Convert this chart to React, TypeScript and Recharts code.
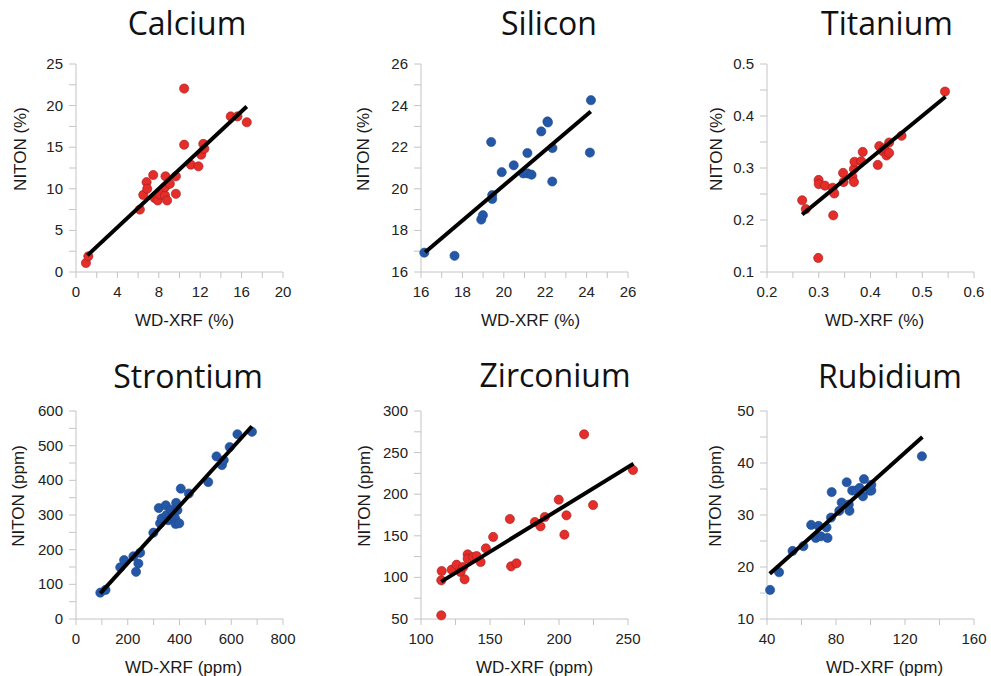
import React from 'react';
import { ScatterChart, Scatter, XAxis, YAxis, Label } from 'recharts';

// Calcium (%)
const caX = [0.96, 1.19, 6.17, 6.5, 6.82, 6.88, 7.46, 7.6, 7.85, 7.9, 8.1, 8.6, 8.65, 8.6, 8.8, 9.07, 9.65, 9.65, 10.45, 10.45, 11.1, 11.83, 12.1, 12.3, 12.4, 14.95, 15.6, 16.5];
const caY = [1.08, 1.88, 7.5, 9.27, 10.8, 10.0, 11.66, 8.9, 9.2, 8.6, 9.3, 9.2, 11.5, 10.2, 8.6, 10.6, 11.5, 9.4, 22.05, 15.3, 12.9, 12.7, 14.1, 15.4, 14.8, 18.7, 18.7, 18.0];
const caFitX = [1.1, 16.5];
const caFitY = [2.0, 19.9];
const caXTicks = [0, 4, 8, 12, 16, 20];
const caYTicks = [0, 5, 10, 15, 20, 25];

// Silicon (%)
const siX = [16.16, 17.62, 18.91, 18.99, 19.39, 19.44, 19.44, 19.9, 20.48, 20.94, 21.15, 21.34, 21.14, 21.81, 22.11, 22.13, 22.35, 22.34, 24.21, 24.16];
const siY = [16.93, 16.78, 18.52, 18.73, 22.25, 19.51, 19.7, 20.8, 21.13, 20.74, 20.74, 20.68, 21.72, 22.76, 23.24, 23.19, 21.96, 20.35, 24.26, 21.74];
const siFitX = [16.2, 24.2];
const siFitY = [16.95, 23.72];
const siXTicks = [16, 18, 20, 22, 24, 26];
const siYTicks = [16, 18, 20, 22, 24, 26];

// Titanium (%)
const tiX = [0.268, 0.275, 0.299, 0.2997, 0.3, 0.312, 0.327, 0.328, 0.33, 0.347, 0.348, 0.365, 0.368, 0.368, 0.369, 0.382, 0.385, 0.414, 0.417, 0.424, 0.427, 0.431, 0.436, 0.436, 0.46, 0.544];
const tiY = [0.238, 0.221, 0.127, 0.277, 0.269, 0.266, 0.262, 0.209, 0.251, 0.2906, 0.273, 0.283, 0.298, 0.273, 0.312, 0.313, 0.331, 0.306, 0.342, 0.332, 0.338, 0.324, 0.329, 0.349, 0.362, 0.447];
const tiFitX = [0.268, 0.545];
const tiFitY = [0.2105, 0.437];
const tiXTicks = [0.2, 0.3, 0.4, 0.5, 0.6];
const tiYTicks = [0.1, 0.2, 0.3, 0.4, 0.5];

// Strontium (ppm)
const srX = [94, 114, 171, 186, 222, 241, 232, 248, 299, 320, 325, 331, 347, 350, 357, 367, 376, 383, 385, 387, 392, 399, 405, 436, 511, 543, 564, 571, 594, 624, 680];
const srY = [76, 84, 149, 170, 181, 160, 136, 191, 249, 320, 276, 290, 328, 300, 285, 315, 304, 290, 274, 335, 314, 276, 376, 362, 395, 469, 444, 458, 496, 533, 540];
const srFitX = [94, 680];
const srFitY = [74, 556];
const srXTicks = [0, 200, 400, 600, 800];
const srYTicks = [0, 100, 200, 300, 400, 500, 600];

// Zirconium (ppm)
const zrX = [114.7, 114.7, 115, 122.2, 125.8, 128.7, 130.6, 131.6, 133.8, 133.8, 137.9, 140.3, 143.2, 147, 152.3, 164.4, 165.3, 169.2, 182.5, 186.6, 189.7, 199.8, 203.9, 205.4, 218.2, 224.7, 253.6];
const zrY = [54.4, 96.5, 107.7, 109.3, 115.3, 106.5, 112.5, 97.7, 127.7, 122.5, 124.5, 125.7, 118.5, 134.9, 148.6, 170.2, 113.3, 116.9, 166.6, 161.4, 172.6, 193.4, 151.4, 174.6, 272, 187, 229.1];
const zrFitX = [114.7, 254];
const zrFitY = [94.9, 236.7];
const zrXTicks = [100, 150, 200, 250];
const zrYTicks = [50, 100, 150, 200, 250, 300];

// Rubidium (ppm)
const rbX = [41.8, 47.0, 54.8, 61.1, 65.6, 68.3, 69.9, 71.2, 74.5, 75.1, 77.1, 77.5, 81.9, 83.3, 86.2, 87.4, 87.8, 89.4, 91.7, 93.7, 95.6, 96.2, 99.5, 100.5, 100.5, 129.8];
const rbY = [15.6, 19.0, 23.1, 24.0, 28.1, 25.6, 27.9, 25.9, 27.6, 25.6, 29.5, 34.4, 30.8, 32.4, 36.3, 32.0, 30.8, 34.7, 34.7, 35.2, 33.6, 36.9, 34.7, 34.7, 35.8, 41.3];
const rbFitX = [41.6, 130.1];
const rbFitY = [18.7, 45.0];
const rbXTicks = [40, 80, 120, 160];
const rbYTicks = [10, 20, 30, 40, 50];

const RED = '#e52d2a';
const RED_EDGE = '#a01d19';
const BLUE = '#2457a6';
const BLUE_EDGE = '#1e4c91';
const AXIS = '#c4c4c4';
const TICK_FONT = '"Liberation Sans", Arial, sans-serif';

const PLOT_W = 207;
const PLOT_H = 208;
const Y_AXIS_W = 76;
const X_AXIS_H = 58;
const TOP_M = 10;
const RIGHT_M = 20;

const zip = (xs: number[], ys: number[]) => xs.map((x, i) => ({ x, y: ys[i] }));

// majors plus a minor tick halfway between each pair
const withMinors = (major: number[]) => {
    const out: number[] = [];
    major.forEach((v, i) => {
        out.push(v);
        if (i < major.length - 1) out.push((v + major[i + 1]) / 2);
    });
    return out;
};

type PanelProps = {
    title: string;
    xLabel: string;
    yLabel: string;
    xs: number[];
    ys: number[];
    fitX: number[];
    fitY: number[];
    xTicks: number[];
    yTicks: number[];
    color: string;
    edge: string;
    left: number;
    top: number;
    titleX: number;
    titleY: number;
    xLabelDx: number;
    yLabelGap: number;
};

const Panel: React.FC<PanelProps> = (p) => {
    const data = zip(p.xs, p.ys);
    const fit = zip(p.fitX, p.fitY);
    const xAll = withMinors(p.xTicks);
    const yAll = withMinors(p.yTicks);

    const XTick = (t: any) =>
        p.xTicks.includes(t.payload.value) ? (
            <text x={t.x} y={t.y} dy={17} textAnchor="middle" fontSize={15} fontFamily={TICK_FONT} fill="#222">
                {String(t.payload.value)}
            </text>
        ) : <g />;

    const YTick = (t: any) =>
        p.yTicks.includes(t.payload.value) ? (
            <text x={t.x} y={t.y} dx={-4} dy={5} textAnchor="end" fontSize={15} fontFamily={TICK_FONT} fill="#222">
                {String(t.payload.value)}
            </text>
        ) : <g />;

    const chartLeft = p.left - Y_AXIS_W;
    const chartTop = p.top - TOP_M;

    return (
        <>
            <div
                style={{
                    position: 'absolute',
                    left: p.titleX - 100,
                    width: 200,
                    top: p.titleY - 34,
                    textAlign: 'center',
                    fontFamily: '"Open Sans", sans-serif',
                    fontSize: 32,
                    lineHeight: '42px',
                    color: '#111',
                }}
            >
                {p.title}
            </div>
            <div style={{ position: 'absolute', left: chartLeft, top: chartTop }}>
                <ScatterChart
                    width={Y_AXIS_W + PLOT_W + RIGHT_M}
                    height={TOP_M + PLOT_H + X_AXIS_H}
                    margin={{ top: TOP_M, right: RIGHT_M, bottom: 0, left: 0 }}
                >
                    <XAxis
                        type="number"
                        dataKey="x"
                        domain={[p.xTicks[0], p.xTicks[p.xTicks.length - 1]]}
                        ticks={xAll}
                        interval={0}
                        allowDataOverflow
                        height={X_AXIS_H}
                        tickSize={6}
                        stroke={AXIS}
                        tickLine={{ stroke: AXIS }}
                        axisLine={{ stroke: AXIS }}
                        tick={XTick}
                    >
                        <Label
                            content={(lp: any) => {
                                const vb = lp.viewBox;
                                return (
                                    <text
                                        x={vb.x + vb.width / 2 + p.xLabelDx}
                                        y={vb.y + 54}
                                        textAnchor="middle"
                                        fontSize={17}
                                        fontFamily={TICK_FONT}
                                        fill="#1a1a1a"
                                    >
                                        {p.xLabel}
                                    </text>
                                );
                            }}
                        />
                    </XAxis>
                    <YAxis
                        type="number"
                        dataKey="y"
                        domain={[p.yTicks[0], p.yTicks[p.yTicks.length - 1]]}
                        ticks={yAll}
                        interval={0}
                        allowDataOverflow
                        width={Y_AXIS_W}
                        tickSize={7}
                        stroke={AXIS}
                        tickLine={{ stroke: AXIS }}
                        axisLine={{ stroke: AXIS }}
                        tick={YTick}
                    >
                        <Label
                            content={(lp: any) => {
                                const vb = lp.viewBox;
                                const cx = vb.x + vb.width - p.yLabelGap;
                                const cy = vb.y + vb.height / 2 - 19;
                                return (
                                    <text
                                        x={cx}
                                        y={cy}
                                        dy={6}
                                        transform={`rotate(-90 ${cx} ${cy})`}
                                        textAnchor="middle"
                                        fontSize={17}
                                        fontFamily={TICK_FONT}
                                        fill="#1a1a1a"
                                    >
                                        {p.yLabel}
                                    </text>
                                );
                            }}
                        />
                    </YAxis>
                    <Scatter
                        data={data}
                        isAnimationActive={false}
                        shape={(s: any) => (
                            <circle cx={s.cx} cy={s.cy} r={4.6} fill={p.color} stroke={p.edge} strokeWidth={0.6} />
                        )}
                    />
                    <Scatter
                        data={fit}
                        isAnimationActive={false}
                        line={{ stroke: '#000', strokeWidth: 4 }}
                        shape={() => <g />}
                    />
                </ScatterChart>
            </div>
        </>
    );
};

export default function App() {
    return (
        <div style={{ position: 'absolute', left: 0, top: 0, width: 991, height: 676, background: '#fff', overflow: 'hidden' }}>
            {/* the reference lets marks run past the axis end (Zirconium), so no clipping */}
            <style>{'.recharts-wrapper g[clip-path], .recharts-wrapper [clip-path] { clip-path: none !important; }'}</style>
            <Panel title="Calcium" xLabel="WD-XRF (%)" yLabel="NITON (%)" xs={caX} ys={caY} fitX={caFitX} fitY={caFitY}
                xTicks={caXTicks} yTicks={caYTicks} color={RED} edge={RED_EDGE}
                left={76} top={64} titleX={187} titleY={36} xLabelDx={5} yLabelGap={56} />
            <Panel title="Silicon" xLabel="WD-XRF (%)" yLabel="NITON (%)" xs={siX} ys={siY} fitX={siFitX} fitY={siFitY}
                xTicks={siXTicks} yTicks={siYTicks} color={BLUE} edge={BLUE_EDGE}
                left={421} top={64} titleX={549} titleY={36} xLabelDx={6} yLabelGap={58} />
            <Panel title="Titanium" xLabel="WD-XRF (%)" yLabel="NITON (%)" xs={tiX} ys={tiY} fitX={tiFitX} fitY={tiFitY}
                xTicks={tiXTicks} yTicks={tiYTicks} color={RED} edge={RED_EDGE}
                left={767} top={64} titleX={887} titleY={36} xLabelDx={4} yLabelGap={51} />
            <Panel title="Strontium" xLabel="WD-XRF (ppm)" yLabel="NITON (ppm)" xs={srX} ys={srY} fitX={srFitX} fitY={srFitY}
                xTicks={srXTicks} yTicks={srYTicks} color={BLUE} edge={BLUE_EDGE}
                left={76} top={411} titleX={188} titleY={389} xLabelDx={4} yLabelGap={58} />
            <Panel title="Zirconium" xLabel="WD-XRF (ppm)" yLabel="NITON (ppm)" xs={zrX} ys={zrY} fitX={zrFitX} fitY={zrFitY}
                xTicks={zrXTicks} yTicks={zrYTicks} color={RED} edge={RED_EDGE}
                left={421} top={411} titleX={555} titleY={388} xLabelDx={10} yLabelGap={57} />
            <Panel title="Rubidium" xLabel="WD-XRF (ppm)" yLabel="NITON (ppm)" xs={rbX} ys={rbY} fitX={rbFitX} fitY={rbFitY}
                xTicks={rbXTicks} yTicks={rbYTicks} color={BLUE} edge={BLUE_EDGE}
                left={767} top={411} titleX={890} titleY={389} xLabelDx={14} yLabelGap={52} />
        </div>
    );
}
